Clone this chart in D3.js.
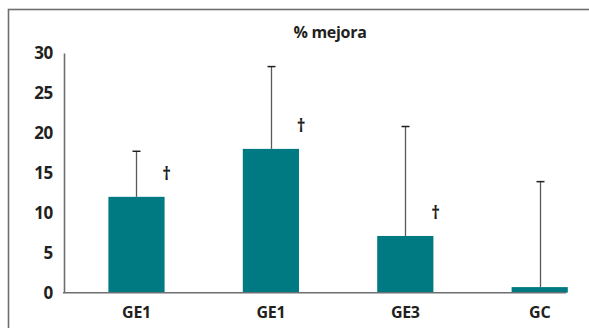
<!DOCTYPE html>
<html>
<head>
<meta charset="utf-8">
<script src="https://cdn.jsdelivr.net/npm/d3@7"></script>
<style>
  html, body { margin: 0; padding: 0; background: #fff; }
  svg { display: block; }
  text { font-family: "Open Sans", "Noto Sans", sans-serif; font-weight: bold; fill: #231f20; letter-spacing: -0.3px; }
</style>
</head>
<body>
<script>
// Porcentaje de mejora por grupo, con desviación (barra de error) y marca de significación
const categories = ["GE1", "GE1 ", "GE3", "GC"];
const labels = ["GE1", "GE1", "GE3", "GC"];
const means = [12.0, 18.0, 7.1, 0.7];
const upper = [17.7, 28.3, 20.8, 13.9];
const significant = [true, true, true, false];
const yTicks = [0, 5, 10, 15, 20, 25, 30];
const title = "% mejora";

const W = 589, H = 328;
const svg = d3.select("body").append("svg").attr("width", W).attr("height", H);

// marco exterior
svg.append("rect")
  .attr("x", 8.5).attr("y", 9.5)
  .attr("width", W + 10).attr("height", H + 10)
  .attr("fill", "none").attr("stroke", "#6d6e71").attr("stroke-width", 1.6);

const y = d3.scaleLinear().domain([0, 30]).range([292.7, 53]);
const x = d3.scaleBand().domain(categories).range([108.4, 567.8]).paddingInner(0.582).paddingOuter(0);

const data = categories.map((c, i) => ({ c, label: labels[i], m: means[i], u: upper[i], s: significant[i] }));

// barras de error (detrás de las barras)
const eb = svg.append("g");
data.forEach(d => {
  const cx = Math.round(x(d.c) + x.bandwidth() / 2) + 0.5;
  eb.append("line").attr("x1", cx).attr("x2", cx).attr("y1", y(d.m)).attr("y2", y(d.u))
    .attr("stroke", "#58595b").attr("stroke-width", 1.3);
  eb.append("line").attr("x1", cx - 4).attr("x2", cx + 4).attr("y1", y(d.u)).attr("y2", y(d.u))
    .attr("stroke", "#231f20").attr("stroke-width", 1.5);
});

// barras
svg.append("g").selectAll("rect").data(data).join("rect")
  .attr("x", d => x(d.c)).attr("width", x.bandwidth())
  .attr("y", d => y(d.m)).attr("height", d => y(0) - y(d.m))
  .attr("fill", "#007a82");

// marcas de significación
svg.append("g").selectAll("text").data(data.filter(d => d.s)).join("text")
  .attr("x", d => x(d.c) + x.bandwidth() + 2)
  .attr("y", d => y(d.m) - 17)
  .attr("text-anchor", "middle")
  .attr("font-size", 17)
  .text("†");

// eje Y
const yAxis = svg.append("g").attr("transform", "translate(64,0)")
  .call(d3.axisLeft(y).tickValues(yTicks).tickSize(0).tickPadding(11));
yAxis.select(".domain").attr("stroke", "#6d6e71").attr("stroke-width", 1.6);
yAxis.selectAll("text").attr("font-size", 17).style("font-family", null);

// eje X
const xAxis = svg.append("g").attr("transform", `translate(0,${y(0)})`)
  .call(d3.axisBottom(x).tickSize(0).tickPadding(14).tickFormat((c, i) => labels[i]));
xAxis.select(".domain").remove();
svg.append("line").attr("x1", 63).attr("x2", 566).attr("y1", y(0)).attr("y2", y(0))
  .attr("stroke", "#6d6e71").attr("stroke-width", 1.6);
xAxis.selectAll("text").attr("font-size", 16).style("font-family", null);

// título
svg.append("text").attr("x", 330).attr("y", 38).attr("text-anchor", "middle")
  .attr("font-size", 16).text(title);
</script>
</body>
</html>
